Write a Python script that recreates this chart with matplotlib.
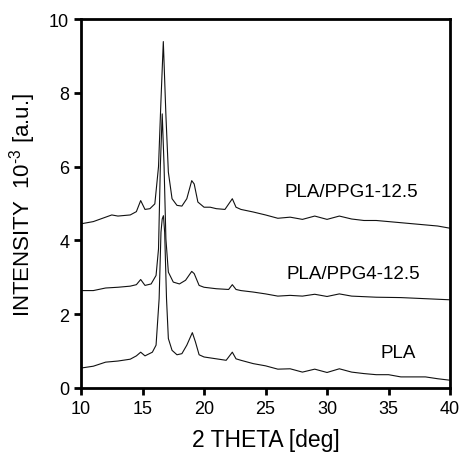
import matplotlib
matplotlib.use("Agg")
import matplotlib.pyplot as plt

plt.rcParams['font.family'] = ['Liberation Sans', 'DejaVu Sans']
plt.rcParams['mathtext.fontset'] = 'custom'
plt.rcParams['mathtext.rm'] = 'Liberation Sans'

# 2-theta positions and intensities
theta_ppg1 = [10, 11, 12, 12.5, 13, 14, 14.5, 14.85, 15.2, 15.6, 16.0, 16.3, 16.5, 16.69, 16.9, 17.1,
              17.4, 17.8, 18.2, 18.6, 19.0, 19.2, 19.5, 20.0, 20.5, 21.0, 21.7, 22.3, 22.6, 23, 24,
              25, 26, 27, 28, 29, 30, 31, 32, 33, 34, 35, 36, 37, 38, 39, 40]
int_ppg1 = [4.45, 4.51, 4.63, 4.69, 4.66, 4.69, 4.78, 5.08, 4.84, 4.86, 4.99, 6.0, 7.8, 9.39, 7.4, 5.85,
            5.13, 4.95, 4.93, 5.13, 5.62, 5.53, 5.04, 4.90, 4.90, 4.86, 4.84, 5.13, 4.90, 4.84, 4.77,
            4.69, 4.60, 4.63, 4.57, 4.66, 4.57, 4.66, 4.58, 4.54, 4.54, 4.51, 4.48, 4.45, 4.42, 4.39, 4.33]

theta_ppg4 = [10, 11, 12, 13, 14, 14.5, 14.85, 15.2, 15.7, 16.1, 16.3, 16.45, 16.6, 16.75, 16.9, 17.1,
              17.5, 18.0, 18.5, 19.0, 19.2, 19.6, 20, 21, 22, 22.3, 22.6, 23, 24, 25, 26, 27, 28,
              29, 30, 31, 32, 34, 36, 38, 40]
int_ppg4 = [2.64, 2.64, 2.71, 2.73, 2.76, 2.80, 2.94, 2.78, 2.82, 3.05, 3.77, 6.03, 7.43, 6.03, 4.04, 3.14,
            2.87, 2.82, 2.92, 3.16, 3.10, 2.78, 2.73, 2.69, 2.67, 2.80, 2.67, 2.64, 2.60, 2.55, 2.49, 2.51, 2.49,
            2.54, 2.48, 2.55, 2.49, 2.46, 2.45, 2.42, 2.39]

theta_pla = [10, 11, 12, 13, 14, 14.5, 14.85, 15.2, 15.8, 16.1, 16.35, 16.5, 16.6, 16.7, 16.8, 16.95,
             17.1, 17.4, 17.8, 18.2, 18.6, 19.05, 19.3, 19.6, 20, 21, 21.8, 22.3, 22.6, 23, 24, 25,
             26, 27, 28, 29, 30, 31, 32, 33, 34, 35, 36, 37, 38, 39, 40]
int_pla = [0.54, 0.59, 0.70, 0.73, 0.78, 0.87, 0.97, 0.87, 0.97, 1.16, 2.42, 4.22, 4.58, 4.67, 4.22, 2.42,
           1.34, 1.02, 0.90, 0.93, 1.16, 1.50, 1.25, 0.90, 0.84, 0.79, 0.75, 0.97, 0.79, 0.75, 0.66, 0.60,
           0.51, 0.52, 0.43, 0.51, 0.42, 0.52, 0.43, 0.39, 0.36, 0.36, 0.30, 0.30, 0.30, 0.25, 0.21]

fig = plt.figure(figsize=(4.63, 4.56), dpi=100)
ax = fig.add_axes([0.175, 0.147, 0.797, 0.809])

for th, inten in [(theta_ppg1, int_ppg1), (theta_ppg4, int_ppg4), (theta_pla, int_pla)]:
	ax.plot(th, inten, color='#111111', lw=0.8)

ax.text(32.0, 5.32, 'PLA/PPG1-12.5', fontsize=13.5, ha='center', va='center')
ax.text(32.1, 3.10, 'PLA/PPG4-12.5', fontsize=13.5, ha='center', va='center')
ax.text(35.8, 0.96, 'PLA', fontsize=13.5, ha='center', va='center')

ax.set_xlim(10, 40)
ax.set_ylim(0, 10)
ax.set_xticks(range(10, 41, 5))
ax.set_yticks(range(0, 11, 2))
for s in ax.spines.values():
	s.set_linewidth(2)
ax.tick_params(direction='out', length=5, width=2, labelsize=13)
ax.set_xlabel('2 THETA [deg]', fontsize=16.5, labelpad=8)
ax.set_ylabel('INTENSITY  10$^{\u2010\\mathrm{3}}$ [a.u.]', fontsize=16, labelpad=8)

fig.savefig('out.png', dpi=100)
